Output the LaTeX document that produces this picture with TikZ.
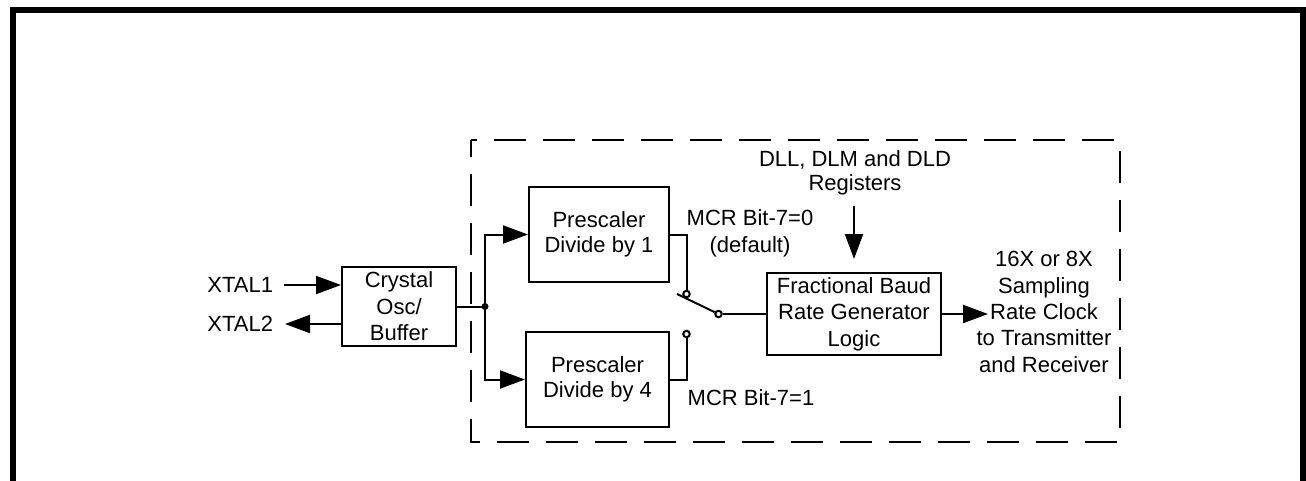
\documentclass[tikz,border=0pt]{standalone}
\usepackage{fontspec}
\setmainfont{Liberation Sans}
\usetikzlibrary{arrows.meta}
\begin{document}
\begin{tikzpicture}[x=1pt,y=-1pt, line width=2pt,
  every node/.style={font=\fontsize{22}{25}\selectfont},
  box/.style={draw, line width=2pt, inner sep=0pt, align=center},
  arr/.style={-{Triangle[length=25pt,width=18pt]}},
  contact/.style={circle, draw, line width=2pt, minimum size=6.5pt, inner sep=0pt, fill=white},
  lbl/.style={inner sep=0pt, align=center},
  wide/.style={font=\fontsize{22}{26.5}\selectfont}]
\useasboundingbox (0,0) rectangle (1306,480);
% outer frame
\draw[line width=6pt] (13,520) -- (13,10) -- (1303,10) -- (1303,520);
% dashed enclosure
\draw[dash pattern=on 32pt off 17pt, dash phase=15pt] (470.7,140) rectangle (1120,441.7);
% oscillator
\node[box, wide, minimum width=114pt, minimum height=79pt] (osc) at (399,306.5) {Crystal\\Osc/\\Buffer};
\node[lbl, anchor=east, inner xsep=10pt] (x1) at (284,285) {XTAL1};
\node[lbl, anchor=east, inner xsep=11pt] (x2) at (285,324) {XTAL2};
\draw[arr] (x1.east) -- (x1.east -| osc.west);
\draw[arr] (osc.west |- x2.east) -- (x2.east);
% junction
\coordinate (J) at (485,306.5);
\draw (osc.east) -- (J);
\fill (J) circle (3.5pt);
% prescalers
\node[box, minimum width=140pt, minimum height=95pt] (p1) at (599,234.5) {Prescaler\\Divide by 1};
\node[box, minimum width=143pt, minimum height=95pt] (p4) at (597.5,379.5) {Prescaler\\Divide by 4};
\draw[arr] (J) |- (p1.west);
\draw[arr] (J) |- (p4.west);
% switch
\node[contact] (c1) at (686.5,294) {};
\node[contact] (c2) at (686.5,334) {};
\node[contact] (c0) at (718.5,314) {};
\draw (p1.east) -| (c1.north);
\draw (p4.east) -| (c2.south);
\coordinate (lv) at (677,294);
\draw (lv) -- (c0);
% fractional baud generator
\node[box, wide, minimum width=174pt, minimum height=82pt] (frac) at (854,314) {Fractional Baud\\Rate Generator\\Logic};
\draw (c0) -- (frac.west);
\coordinate (otip) at (988,314);
\draw[arr] (frac.east) -- (otip);
\node[lbl, font=\fontsize{22}{26.3}\selectfont] (out) at (1044,312) {16X or 8X\\Sampling\\Rate Clock\\to Transmitter\\and Receiver};
% registers
\node[lbl, font=\fontsize{22}{24}\selectfont, inner ysep=10pt] (reg) at (855,173) {DLL, DLM and DLD\\Registers};
\coordinate (rtip) at ([yshift=13pt]frac.north);
\draw[arr] (reg.south -| rtip) -- (rtip);
% MCR labels
\node[lbl, font=\fontsize{22}{27}\selectfont] (m0) at (750,233) {MCR Bit-7=0\\(default)};
\node[lbl, anchor=base] (m1) at (751,405) {MCR Bit-7=1};
\end{tikzpicture}
\end{document}
